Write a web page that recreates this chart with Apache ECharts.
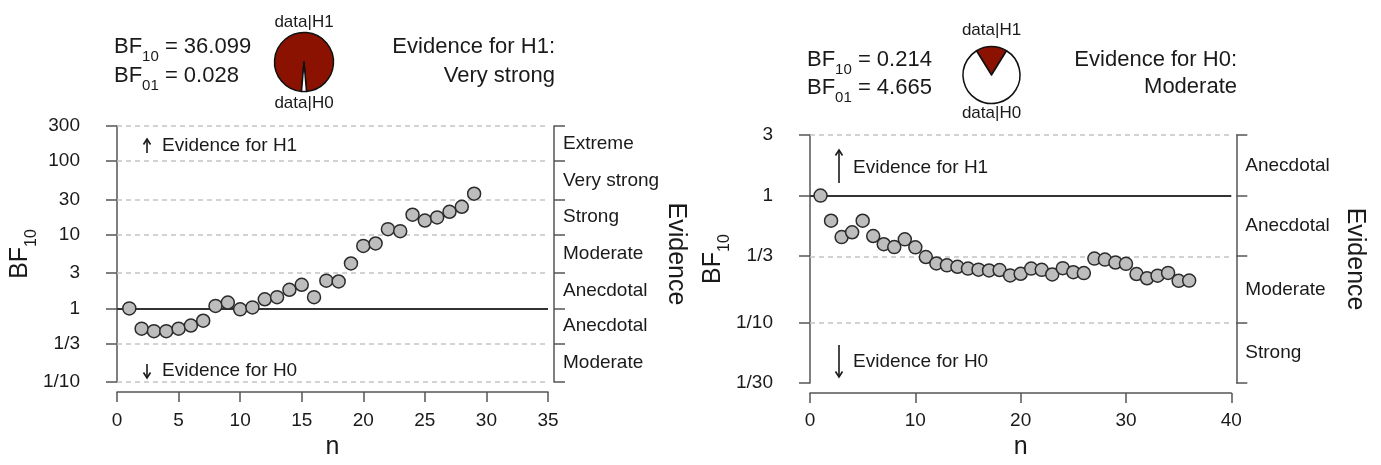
<!DOCTYPE html>
<html>
<head>
<meta charset="utf-8">
<script src="https://cdn.jsdelivr.net/npm/echarts@6/dist/echarts.min.js"></script>
<style>
  html, body { margin: 0; padding: 0; background: #ffffff; }
  #chart { width: 1381px; height: 465px; }
</style>
</head>
<body>
<div id="chart"></div>
<script>
// ---- Sequential analysis, first data set ----
const nLeft = [1, 2, 3, 4, 5, 6, 7, 8, 9, 10, 11, 12, 13, 14, 15, 16, 17, 18, 19, 20,
               21, 22, 23, 24, 25, 26, 27, 28, 29];
const bfLeft = [1.0, 0.53, 0.49, 0.49, 0.53, 0.585, 0.68, 1.08, 1.2, 0.97,
                1.03, 1.33, 1.42, 1.79, 2.09, 1.42, 2.38, 2.32, 4.07, 7.05,
                7.62, 11.9, 11.2, 18.7, 15.6, 17.2, 20.5, 24.0, 36.099];
const leftBF10 = '36.099';
const leftBF01 = '0.028';
const leftVerdict = ['Evidence for H1:', 'Very strong'];
const leftYTicks = [1 / 10, 1 / 3, 1, 3, 10, 30, 100, 300];
const leftYLabels = ['1/10', '1/3', '1', '3', '10', '30', '100', '300'];
const leftEvidence = ['Moderate', 'Anecdotal', 'Anecdotal', 'Moderate', 'Strong', 'Very strong', 'Extreme'];
const leftXMax = 35, leftXStep = 5;

// ---- Sequential analysis, second data set ----
const nRight = [1, 2, 3, 4, 5, 6, 7, 8, 9, 10, 11, 12, 13, 14, 15, 16, 17, 18, 19, 20,
                21, 22, 23, 24, 25, 26, 27, 28, 29, 30, 31, 32, 33, 34, 35, 36];
const bfRight = [1.0, 0.634, 0.471, 0.514, 0.634, 0.48, 0.414, 0.393, 0.452, 0.391,
                 0.328, 0.292, 0.282, 0.275, 0.266, 0.261, 0.257, 0.259, 0.235, 0.242,
                 0.266, 0.26, 0.239, 0.268, 0.249, 0.245, 0.319, 0.313, 0.297, 0.29,
                 0.241, 0.223, 0.234, 0.246, 0.213, 0.214];
const rightBF10 = '0.214';
const rightBF01 = '4.665';
const rightVerdict = ['Evidence for H0:', 'Moderate'];
const rightYTicks = [1 / 30, 1 / 10, 1 / 3, 1, 3];
const rightYLabels = ['1/30', '1/10', '1/3', '1', '3'];
const rightEvidence = ['Strong', 'Moderate', 'Anecdotal', 'Anecdotal'];
const rightXMax = 40, rightXStep = 10;

// ---- styling ----
const FONT = '"Liberation Sans", Arial, Helvetica, sans-serif';
const TEXT = '#1a1a1a';
const AXIS = '#555555';
const H1_RED = '#8b1200';

const chart = echarts.init(document.getElementById('chart'), null, { renderer: 'canvas' });

function closestIndex(values, v) {
  let best = 0, bestD = Infinity;
  values.forEach((t, i) => {
    const d = Math.abs(Math.log(t) - Math.log(v));
    if (d < bestD) { bestD = d; best = i; }
  });
  return best;
}

// The log scale round-trips its extent through log/pow, so the end ticks are
// pulled a hair inside the range to survive the extent filter.
function insideRange(ticks) {
  const last = ticks.length - 1;
  return ticks.map((t, i) => i === 0 ? t * (1 + 1e-9) : (i === last ? t * (1 - 1e-9) : t));
}

function panelAxes(gi, ticks, labels, evidence, xMax, xStep, cfg) {
  const safe = insideRange(ticks);
  const mids = ticks.slice(0, -1).map((t, i) => Math.sqrt(t * ticks[i + 1]));
  const axisLine = { show: true, lineStyle: { color: AXIS, width: 1.5 } };
  const xAxis = {
    type: 'value', gridIndex: gi, min: 0, max: xMax, interval: xStep,
    offset: 10,
    axisLine: axisLine,
    axisTick: { show: true, length: 10, lineStyle: { color: AXIS, width: 1.5 } },
    axisLabel: { fontSize: 19, color: TEXT, fontFamily: FONT, margin: cfg.xLabelGap },
    splitLine: { show: false },
    name: 'n', nameLocation: 'middle', nameGap: cfg.nGap,
    nameTextStyle: { fontSize: 25, color: TEXT, fontFamily: FONT }
  };
  const yMain = {
    type: 'log', logBase: 10, gridIndex: gi,
    min: ticks[0], max: ticks[ticks.length - 1],
    position: 'left', offset: cfg.leftOffset,
    axisLine: axisLine,
    axisTick: { show: true, length: 11, customValues: safe, lineStyle: { color: AXIS, width: 1.5 } },
    axisLabel: {
      customValues: safe, fontSize: 19, color: TEXT, fontFamily: FONT, margin: 20,
      formatter: v => labels[closestIndex(ticks, v)]
    },
    splitLine: { show: false },
    name: '{m|BF}{s|10}', nameLocation: 'middle', nameGap: 56, nameRotate: 90,
    nameTextStyle: {
      color: TEXT, fontFamily: FONT,
      rich: {
        m: { fontSize: 25, lineHeight: 38, color: TEXT, fontFamily: FONT },
        s: { fontSize: 16, lineHeight: 24, verticalAlign: 'bottom', color: TEXT, fontFamily: FONT }
      }
    }
  };
  const yEvidence = {
    type: 'log', logBase: 10, gridIndex: gi,
    min: ticks[0], max: ticks[ticks.length - 1],
    position: 'right', offset: cfg.rightOffset,
    axisLine: axisLine,
    axisTick: { show: true, length: 11, customValues: safe, lineStyle: { color: AXIS, width: 1.5 } },
    axisLabel: {
      customValues: mids, fontSize: 19, color: TEXT, fontFamily: FONT, margin: 9,
      formatter: v => evidence[closestIndex(mids, v)]
    },
    splitLine: { show: false },
    name: 'Evidence', nameLocation: 'middle', nameGap: 106, nameRotate: -90,
    nameTextStyle: { fontSize: 25, color: TEXT, fontFamily: FONT }
  };
  return { xAxis, yAxes: [yMain, yEvidence] };
}

const L = panelAxes(0, leftYTicks, leftYLabels, leftEvidence, leftXMax, leftXStep,
                    { leftOffset: 17, rightOffset: 6, nGap: 43, xLabelGap: 19 });
const R = panelAxes(1, rightYTicks, rightYLabels, rightEvidence, rightXMax, rightXStep,
                    { leftOffset: 17, rightOffset: 5, nGap: 40, xLabelGap: 18 });

function refLines(ticks) {
  const safe = insideRange(ticks);
  const lines = safe.map(v => ({
    yAxis: v,
    lineStyle: { color: '#c4c4c4', width: 1.5, type: [5, 4] }
  })).filter((d, i) => ticks[i] !== 1);
  lines.push({ yAxis: 1, lineStyle: { color: '#333333', width: 2, type: 'solid' } });
  return lines;
}

function guideSeries(xi, yi, ticks) {
  return {
    type: 'scatter', xAxisIndex: xi, yAxisIndex: yi, data: [], z: 1, silent: true,
    markLine: {
      silent: true, symbol: ['none', 'none'], label: { show: false }, animation: false,
      data: refLines(ticks)
    }
  };
}

function pointSeries(xi, yi, ns, bfs) {
  return {
    type: 'scatter', xAxisIndex: xi, yAxisIndex: yi, z: 10,
    data: ns.map((n, i) => [n, bfs[i]]),
    symbol: 'circle', symbolSize: 13,
    itemStyle: { color: '#bdbdbd', borderColor: '#2b2b2b', borderWidth: 1.5, opacity: 1 },
    emphasis: { disabled: true }, animation: false
  };
}

function pieSeries(center, r, bf10) {
  const f = bf10 / (1 + bf10);
  return {
    type: 'pie', center: center, radius: r, clockwise: true,
    startAngle: 90 + 180 * f, silent: true, animation: false,
    label: { show: false }, labelLine: { show: false },
    itemStyle: { borderColor: '#111111', borderWidth: 1.5 },
    data: [
      { name: 'data|H1', value: f, itemStyle: { color: H1_RED } },
      { name: 'data|H0', value: 1 - f, itemStyle: { color: '#ffffff' } }
    ]
  };
}

function bfText(x, y, sub, value) {
  return {
    type: 'text', x: x, y: y, silent: true,
    style: {
      text: '{m|BF}{s|' + sub + '}{m| = ' + value + '}',
      textAlign: 'left', textVerticalAlign: 'middle',
      rich: {
        m: { fontSize: 22, lineHeight: 35, fill: TEXT, fontFamily: FONT },
        s: { fontSize: 15, lineHeight: 22, verticalAlign: 'bottom', fill: TEXT, fontFamily: FONT }
      }
    }
  };
}

function plainText(x, y, text, size, align) {
  return {
    type: 'text', x: x, y: y, silent: true,
    style: { text: text, fontSize: size, fontFamily: FONT, fill: TEXT,
             textAlign: align, textVerticalAlign: 'middle' }
  };
}

function arrow(x, yTail, yHead) {
  const dir = yHead < yTail ? 1 : -1;
  return {
    type: 'group', silent: true,
    children: [
      { type: 'line', shape: { x1: x, y1: yTail, x2: x, y2: yHead },
        style: { stroke: TEXT, lineWidth: 1.6 } },
      { type: 'polyline', shape: { points: [[x - 3.5, yHead + dir * 5.5], [x, yHead], [x + 3.5, yHead + dir * 5.5]] },
        style: { stroke: TEXT, lineWidth: 1.6, fill: null } }
    ]
  };
}

const option = {
  backgroundColor: '#ffffff',
  animation: false,
  grid: [
    { left: 117, top: 126, width: 431, height: 263 },
    { left: 810, top: 135, width: 421.3, height: 257 }
  ],
  xAxis: [L.xAxis, R.xAxis],
  yAxis: [L.yAxes[0], L.yAxes[1], R.yAxes[0], R.yAxes[1]],
  series: [
    guideSeries(0, 0, leftYTicks),
    pointSeries(0, 0, nLeft, bfLeft),
    guideSeries(1, 2, rightYTicks),
    pointSeries(1, 2, nRight, bfRight),
    pieSeries([304, 62], 29.5, parseFloat(leftBF10)),
    pieSeries([991.5, 75], 28.5, parseFloat(rightBF10))
  ],
  graphic: [
    // first panel header
    bfText(114, 47, '10', leftBF10),
    bfText(114, 76, '01', leftBF01),
    plainText(304, 22, 'data|H1', 17, 'center'),
    plainText(304, 103, 'data|H0', 17, 'center'),
    plainText(555, 47, leftVerdict[0], 22, 'right'),
    plainText(555, 76, leftVerdict[1], 22, 'right'),
    // first panel direction hints
    arrow(147, 153, 139),
    plainText(162, 146, 'Evidence for H1', 19, 'left'),
    arrow(147, 364, 378),
    plainText(162, 371, 'Evidence for H0', 19, 'left'),
    // second panel header
    bfText(807, 60, '10', rightBF10),
    bfText(807, 88, '01', rightBF01),
    plainText(991.5, 30, 'data|H1', 17, 'center'),
    plainText(991.5, 113, 'data|H0', 17, 'center'),
    plainText(1237, 60, rightVerdict[0], 22, 'right'),
    plainText(1237, 87, rightVerdict[1], 22, 'right'),
    // second panel direction hints
    arrow(839, 183, 150),
    plainText(853, 168, 'Evidence for H1', 19, 'left'),
    arrow(839, 345, 377),
    plainText(853, 362, 'Evidence for H0', 19, 'left')
  ]
};

chart.setOption(option);
</script>
</body>
</html>
